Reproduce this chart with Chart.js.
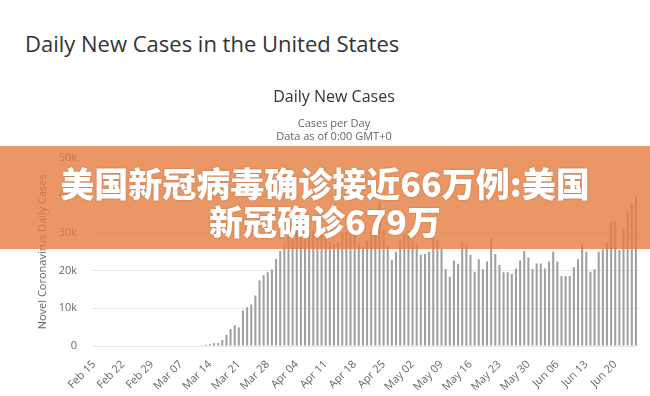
<!DOCTYPE html>
<html>
<head>
<meta charset="utf-8">
<script src="https://cdn.jsdelivr.net/npm/chart.js@4.4.1/dist/chart.umd.min.js"></script>
<style>
  html, body { margin: 0; padding: 0; background: #fff; }
  body { width: 650px; height: 396px; position: relative; overflow: hidden; font-family: "Open Sans", sans-serif; }
  #page-title { position: absolute; left: 25px; top: 29px; margin: 0; font-size: 22px; font-weight: 400; color: #333; line-height: 28px; white-space: nowrap; }
  #chart { position: absolute; left: 0; top: 0; }
  #banner {
    position: absolute; left: 0; top: 146px; width: 650px; height: 103px; box-sizing: border-box;
    padding-top: 18px; background: rgba(229, 125, 62, 0.8); color: #fff; text-align: center;
    font-family: "Noto Sans CJK SC", sans-serif; font-weight: 900; font-size: 34px; line-height: 38px;
    text-shadow: 0 0 2px rgba(120, 60, 20, 0.45);
  }
</style>
</head>
<body>
<h1 id="page-title">Daily New Cases in the United States</h1>
<canvas id="chart" width="650" height="396"></canvas>
<div id="banner">美国新冠病毒确诊接近66万例:美国<br>新冠确诊679万</div>
<script>
// 日期范围 (Feb 15 - Jun 25)
const monthSpans = [['Feb', 15, 29], ['Mar', 1, 31], ['Apr', 1, 30], ['May', 1, 31], ['Jun', 1, 25]];
const dates = [];
monthSpans.forEach(([m, a, b]) => {
    for (let d = a; d <= b; d++) dates.push(m + ' ' + String(d).padStart(2, '0'));
});

// 每日新增病例 (按月读取)
const casesFeb = [0, 0, 0, 0, 0, 0, 0, 0, 0, 0, 0, 0, 0, 0, 0];
const casesMar = [0, 0, 0, 0, 0, 0, 0, 0, 0, 0, 0, 0,
    300, 450, 700, 800, 1600, 3000, 4500, 5500, 4900, 9400, 10300, 11000, 13400, 17400, 18800, 19600, 20300, 23100, 25200];
const casesApr = [27000, 29200, 30500, 31000, 29000, 30000, 30000, 30600, 31000, 30800,
    29500, 27700, 27000, 27500, 30000, 30400, 29800, 30400, 27300, 26400,
    28000, 29900, 30000, 38500, 31000, 26400, 22800, 25000, 28000, 29500];
const casesMay = [30500, 28000, 27000, 24200, 24400, 25000, 28500, 28000, 25900, 20400,
    18400, 22700, 21800, 27500, 27000, 24200, 19700, 23000, 20400, 22400,
    28600, 24400, 21500, 19600, 19600, 19100, 20600, 22700, 25200, 23500, 20400];
const casesJun = [21900, 21900, 20600, 22400, 25000, 22400, 18600, 18600, 18600, 20900,
    23000, 27100, 25000, 19700, 20400, 25000, 25700, 27500, 33200, 33000,
    25500, 31100, 35700, 37900, 39600];
const cases = [].concat(casesFeb, casesMar, casesApr, casesMay, casesJun);

// y轴刻度
const yTicks = [0, 10000, 20000, 30000, 40000, 50000];
const yTickLabels = ['0', '10k', '20k', '30k', '40k', '50k'];

const font = 'Open Sans';

const ctx = document.getElementById('chart').getContext('2d');
const chart = new Chart(ctx, {
    type: 'bar',
    data: {
        labels: dates,
        datasets: [{
            data: cases,
            backgroundColor: '#a0a0a0',
            barPercentage: 0.5,
            categoryPercentage: 1
        }]
    },
    options: {
        responsive: false,
        animation: false,
        layout: {padding: {left: 30, right: 12, top: 0, bottom: 0}},
        plugins: {
            legend: {display: false},
            tooltip: {enabled: false},
            title: {
                display: true,
                text: 'Daily New Cases',
                color: '#333',
                font: {family: font, size: 16, weight: 'normal'},
                padding: {top: 88, bottom: 8}
            },
            subtitle: {
                display: true,
                text: ['Cases per Day', 'Data as of 0:00 GMT+0'],
                color: '#666',
                font: {family: font, size: 11},
                padding: {top: 2, bottom: 14}
            }
        },
        scales: {
            x: {
                grid: {display: false},
                border: {display: false},
                ticks: {
                    autoSkip: false,
                    minRotation: 45,
                    maxRotation: 45,
                    color: '#666',
                    padding: 4,
                    font: {family: font, size: 11},
                    callback: (v, i) => (i % 7 === 0 ? dates[i] : null)
                },
                afterFit: s => { s.height = 50; }
            },
            y: {
                min: yTicks[0],
                max: yTicks[yTicks.length - 1],
                grid: {color: '#e6e6e6', drawTicks: false},
                border: {display: false},
                ticks: {
                    stepSize: 10000,
                    color: '#666',
                    padding: 15,
                    font: {family: font, size: 11},
                    callback: v => yTickLabels[yTicks.indexOf(v)]
                },
                title: {
                    display: true,
                    text: 'Novel Coronavirus Daily Cases',
                    color: '#666',
                    font: {family: font, size: 11},
                    padding: {top: 6}
                },
                afterFit: s => { s.width = 62; }
            }
        }
    }
});
</script>
</body>
</html>
